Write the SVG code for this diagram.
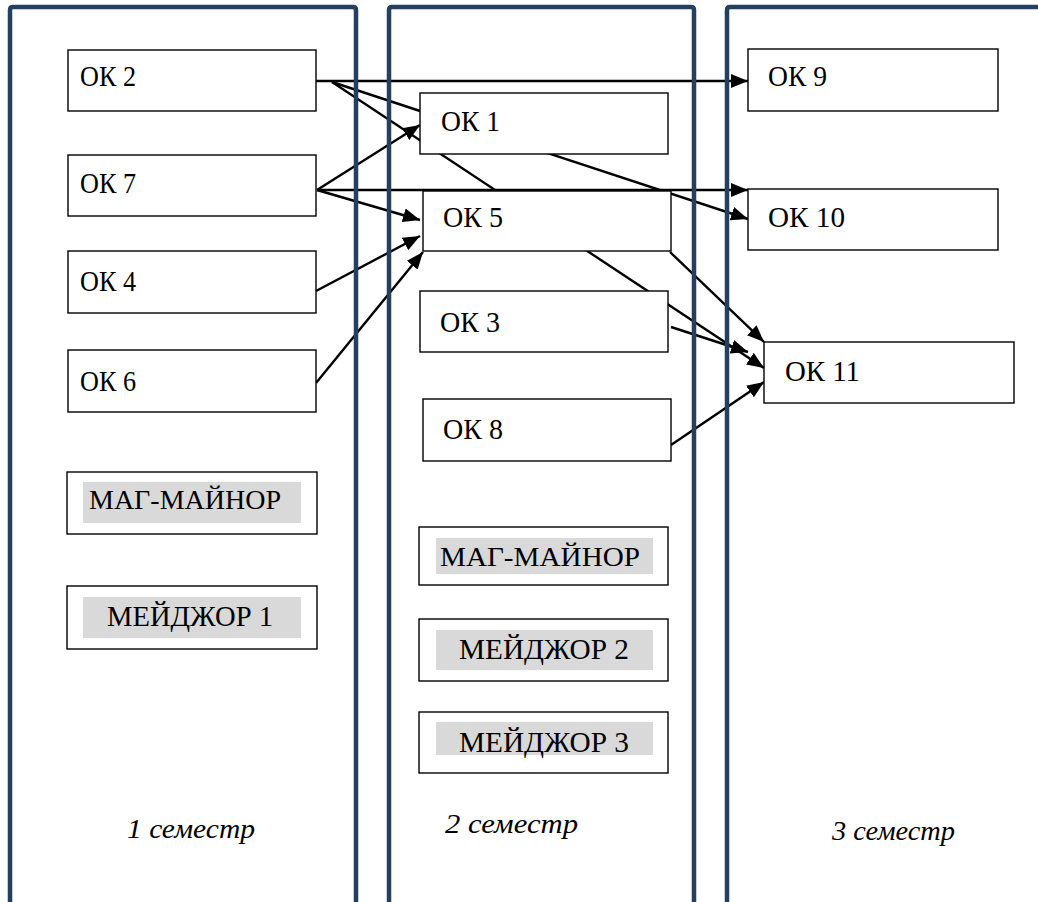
<svg xmlns="http://www.w3.org/2000/svg" width="1038" height="902" viewBox="0 0 1038 902">
<style>
.box{fill:#fff;stroke:#000;stroke-width:1.4}
.hl{fill:#d9d9d9}
.t{font-family:"Liberation Serif","Times New Roman",serif;font-size:29px;fill:#000}
.m{font-size:27px}
.s{font-family:"Liberation Serif","Times New Roman",serif;font-size:27px;font-style:italic;fill:#000}
.col{fill:none;stroke:#243f60;stroke-width:4.5}
.c{stroke:#000;stroke-width:2.4;fill:none}
.a{marker-end:url(#ah)}
</style>
<defs>
<marker id="ah" markerUnits="userSpaceOnUse" markerWidth="17" markerHeight="14" refX="17" refY="7" orient="auto">
<path d="M0,0 L17,7 L0,14 z" fill="#000"/>
</marker>
</defs>
<rect width="1038" height="902" fill="#fff"/>
<g id="connectors">
<line class="c a" x1="316" y1="81" x2="748" y2="81"/>
<line class="c a" x1="332" y1="82" x2="764" y2="368"/>
<line class="c a" x1="332" y1="82" x2="748" y2="219"/>
<line class="c a" x1="317" y1="190" x2="748" y2="190"/>
<line class="c a" x1="317" y1="190" x2="420" y2="125"/>
<line class="c a" x1="317" y1="190" x2="420" y2="220"/>
<line class="c a" x1="316" y1="291" x2="420" y2="236"/>
<line class="c a" x1="316" y1="383" x2="423" y2="252"/>
<line class="c a" x1="670" y1="252" x2="764" y2="342"/>
<line class="c a" x1="671" y1="327" x2="748" y2="352"/>
<line class="c a" x1="671" y1="445" x2="764" y2="382"/>
</g>
<g id="columns">
<path class="col" d="M10,906 V10 Q10,7 13,7 H353 Q356,7 356,10 V906"/>
<path class="col" d="M389,906 V10 Q389,7 392,7 H691 Q694,7 694,10 V906"/>
<path class="col" d="M727,906 V10 Q727,7 730,7 H1045"/>
</g>
<g id="ok2"><rect class="box" x="68" y="50" width="248" height="61"/><text class="t" x="80" y="86" textLength="56" lengthAdjust="spacingAndGlyphs">ОК 2</text></g>
<g id="ok7"><rect class="box" x="68" y="155" width="248" height="61"/><text class="t" x="80" y="193" textLength="56" lengthAdjust="spacingAndGlyphs">ОК 7</text></g>
<g id="ok4"><rect class="box" x="68" y="251" width="248" height="62"/><text class="t" x="80" y="291" textLength="56" lengthAdjust="spacingAndGlyphs">ОК 4</text></g>
<g id="ok6"><rect class="box" x="68" y="350" width="248" height="62"/><text class="t" x="80" y="391" textLength="56" lengthAdjust="spacingAndGlyphs">ОК 6</text></g>
<g id="mag1"><rect class="box" x="67" y="472" width="250" height="62"/><rect class="hl" x="83" y="482" width="218" height="41"/><text class="t m" x="89" y="509" textLength="192" lengthAdjust="spacingAndGlyphs">МАГ-МАЙНОР</text></g>
<g id="major1"><rect class="box" x="67" y="586" width="250" height="63"/><rect class="hl" x="83" y="597" width="218" height="41"/><text class="t" x="107" y="626" textLength="166" lengthAdjust="spacingAndGlyphs">МЕЙДЖОР 1</text></g>
<g id="ok1"><rect class="box" x="420" y="93" width="248" height="61"/><text class="t" x="441" y="131" textLength="59" lengthAdjust="spacingAndGlyphs">ОК 1</text></g>
<g id="ok5"><rect class="box" x="423" y="191" width="248" height="60"/><text class="t" x="443" y="227" textLength="60" lengthAdjust="spacingAndGlyphs">ОК 5</text></g>
<g id="ok3"><rect class="box" x="420" y="291" width="248" height="61"/><text class="t" x="440" y="332" textLength="60" lengthAdjust="spacingAndGlyphs">ОК 3</text></g>
<g id="ok8"><rect class="box" x="423" y="399" width="248" height="62"/><text class="t" x="443" y="439" textLength="60" lengthAdjust="spacingAndGlyphs">ОК 8</text></g>
<g id="mag2"><rect class="box" x="419" y="527" width="249" height="58"/><rect class="hl" x="436" y="538" width="217" height="36"/><text class="t m" x="440" y="566" textLength="200" lengthAdjust="spacingAndGlyphs">МАГ-МАЙНОР</text></g>
<g id="major2"><rect class="box" x="419" y="619" width="249" height="62"/><rect class="hl" x="436" y="630" width="217" height="40"/><text class="t" x="459" y="659" textLength="170" lengthAdjust="spacingAndGlyphs">МЕЙДЖОР 2</text></g>
<g id="major3"><rect class="box" x="419" y="712" width="249" height="61"/><rect class="hl" x="436" y="722" width="217" height="33"/><text class="t" x="459" y="752" textLength="170" lengthAdjust="spacingAndGlyphs">МЕЙДЖОР 3</text></g>
<g id="ok9"><rect class="box" x="748" y="49" width="250" height="62"/><text class="t" x="768" y="86" textLength="59" lengthAdjust="spacingAndGlyphs">ОК 9</text></g>
<g id="ok10"><rect class="box" x="748" y="189" width="250" height="61"/><text class="t" x="768" y="227" textLength="77" lengthAdjust="spacingAndGlyphs">ОК 10</text></g>
<g id="ok11"><rect class="box" x="764" y="342" width="250" height="61"/><text class="t" x="785" y="381" textLength="75" lengthAdjust="spacingAndGlyphs">ОК 11</text></g>
<g id="labels">
<text class="s" x="127" y="838" textLength="128" lengthAdjust="spacingAndGlyphs">1 семестр</text>
<text class="s" x="445" y="833" textLength="133" lengthAdjust="spacingAndGlyphs">2  семестр</text>
<text class="s" x="832" y="840" textLength="123" lengthAdjust="spacingAndGlyphs">3 семестр</text>
</g>
</svg>
